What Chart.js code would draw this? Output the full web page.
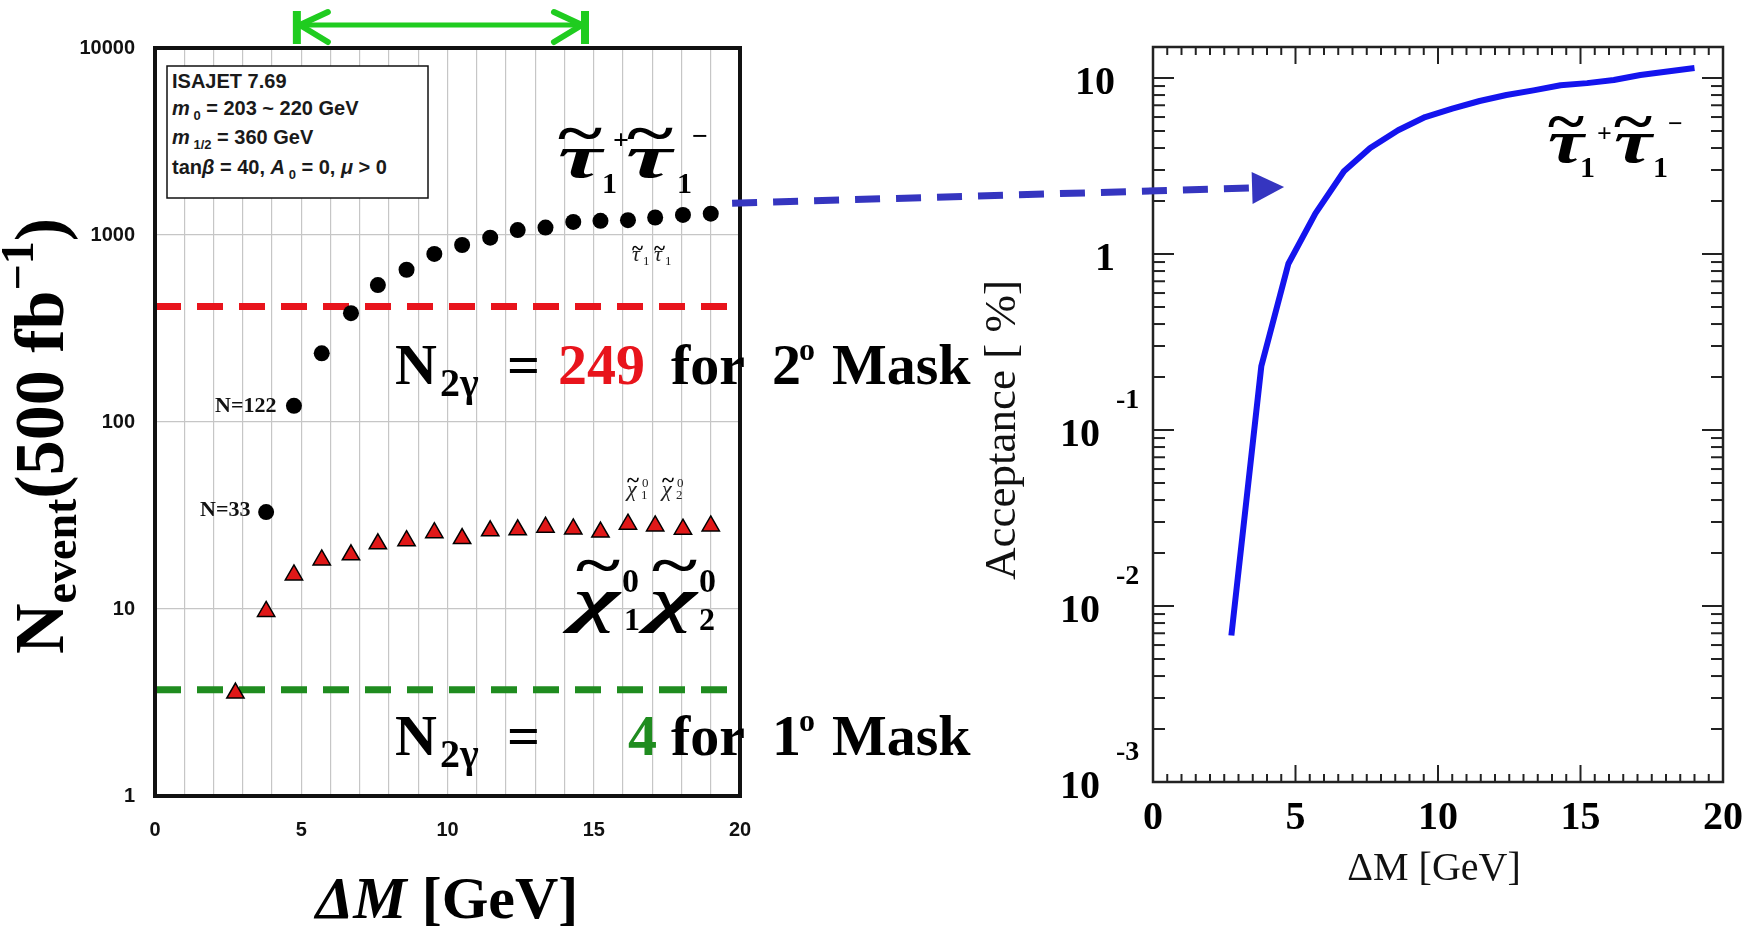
<!DOCTYPE html>
<html><head><meta charset="utf-8">
<script src="https://cdn.jsdelivr.net/npm/chart.js@4.4.1/dist/chart.umd.min.js"></script>
<style>
html,body{margin:0;padding:0;background:#fff;}
#wrap{position:relative;width:1753px;height:931px;overflow:hidden;background:#fff;}
#cL{position:absolute;left:0;top:0;}
#cR{position:absolute;left:760px;top:0;}
#ov{position:absolute;left:0;top:0;z-index:5;}
</style></head><body>
<div id="wrap">
<canvas id="cL" width="760" height="931"></canvas>
<canvas id="cR" width="993" height="931"></canvas>
<svg id="ov" width="1753" height="931" xmlns="http://www.w3.org/2000/svg"></svg>
</div>
<script>
// ---- data ----
const deltaM      = [2.75, 3.8, 4.75, 5.7, 6.7, 7.62, 8.6, 9.55, 10.5, 11.46, 12.4, 13.35, 14.3, 15.23, 16.17, 17.1, 18.05, 19.0];
const stauEvents  = [null, 33, 122, 233, 382, 540, 652, 792, 884, 968, 1062, 1096, 1175, 1190, 1200, 1240, 1280, 1300];
const chiEvents   = [3.55, 9.7, 15.2, 18.3, 19.5, 22.3, 23.2, 25.6, 23.8, 26.2, 26.5, 27.4, 26.8, 25.8, 28.4, 27.8, 26.7, 27.8];
const acceptance  = [0.0068, 0.23, 0.88, 1.7, 2.95, 4.0, 5.05, 6.0, 6.7, 7.4, 8.0, 8.5, 9.1, 9.35, 9.75, 10.4, 10.9, 11.4];
const maskLevels  = [415, 3.7];
const maskLabels  = ['249', '4'];
const xRange      = [0, 20];
const leftYTicks  = [1, 10, 100, 1000, 10000];
const leftYTickLabels = ['1', '10', '100', '1000', '10000'];
const rightXTicks = [0, 5, 10, 15, 20];
const rightYTicks = [0.001, 0.01, 0.1, 1, 10];
const rightYTickBase = ['10', '10', '10', '1', '10'];
const rightYTickExp  = ['-3', '-2', '-1', '', ''];
const arrowRange  = [4.85, 14.7];
const blueArrowFrom = [19.73, 1480];
const blueArrowTo   = [4.6, 2.4];

const SERIF = 'Liberation Serif', SANS = 'Liberation Sans';

const noPad = (s)=>{ s.paddingLeft=0; s.paddingRight=0; s.paddingTop=0; s.paddingBottom=0; };

const frameL = {id:'frameL', afterDatasetsDraw(c){
  const a=c.chartArea, x=c.ctx; x.save(); x.strokeStyle='#111'; x.lineWidth=4;
  x.strokeRect(a.left, a.top, a.right-a.left, a.bottom-a.top); x.restore();
}};

const axesR = {id:'axesR', afterDraw(c){
  const ctx=c.ctx, a=c.chartArea, sx=c.scales.x, sy=c.scales.y;
  ctx.save(); ctx.strokeStyle='#222'; ctx.lineWidth=2;
  const ln=(x1,y1,x2,y2)=>{ctx.beginPath();ctx.moveTo(x1,y1);ctx.lineTo(x2,y2);ctx.stroke();};
  for (let i=0;i<=40;i++){ const v=i*0.5; const px=sx.getPixelForValue(v); const L=(i%10===0)?17:8;
    ln(px,a.bottom,px,a.bottom-L); ln(px,a.top,px,a.top+L); }
  for (let e=-3;e<=1;e++){ for(let k=1;k<=9;k++){ const v=k*Math.pow(10,e); if(v>sy.max) break;
    const py=sy.getPixelForValue(v); const L=(k===1)?21:12; ln(a.left,py,a.left+L,py); ln(a.right,py,a.right-L,py);} }
  ctx.lineWidth=2.5; ctx.strokeRect(a.left,a.top,a.right-a.left,a.bottom-a.top);
  ctx.fillStyle='#000'; ctx.textBaseline='alphabetic';
  rightYTicks.forEach((v,i)=>{
    const py=sy.getPixelForValue(v);
    ctx.font='bold 40px "'+SERIF+'"'; ctx.textAlign='right';
    const hasExp = rightYTickExp[i] !== '';
    ctx.fillText(rightYTickBase[i], a.left-(hasExp?53:38), py+16);
    if (hasExp){ ctx.font='bold 28px "'+SERIF+'"'; ctx.textAlign='left'; ctx.fillText(rightYTickExp[i], a.left-37, py-22); }
  });
  ctx.restore();
}};

const tickFontL = {family:SANS, size:20, weight:'bold'};
const chartL = new Chart(document.getElementById('cL'), {
  type:'scatter',
  data:{datasets:[
    {label:'stau', data: deltaM.map((x,i)=>({x, y:stauEvents[i]})).filter(p=>p.y!==null),
     pointStyle:'circle', pointRadius:8, backgroundColor:'#000', borderColor:'#000', borderWidth:0},
    {label:'chi', data: deltaM.map((x,i)=>({x, y:chiEvents[i]})),
     pointStyle:'triangle', pointRadius:10, backgroundColor:'#e01818', borderColor:'#000', borderWidth:1.5},
    {label:'mask2', data: xRange.map(x=>({x, y:maskLevels[0]})), showLine:true, pointRadius:0,
     borderColor:'#e8141c', borderWidth:7, borderDash:[26,16]},
    {label:'mask1', data: xRange.map(x=>({x, y:maskLevels[1]})), showLine:true, pointRadius:0,
     borderColor:'#1f8c1f', borderWidth:7, borderDash:[26,16]}
  ]},
  options:{responsive:false, animation:false, events:[],
    layout:{autoPadding:false, padding:{left:0, top:48, right:20, bottom:75}},
    plugins:{legend:{display:false}, tooltip:{enabled:false}},
    scales:{
      x:{type:'linear', min:xRange[0], max:xRange[1],
         ticks:{stepSize:1, autoSkip:false, maxRotation:0, padding:22, color:'#111', font:tickFontL,
                callback:(v)=> (v%5===0 ? String(v) : '')},
         grid:{color:'#c6c6c6', lineWidth:1.2, drawTicks:false}, border:{display:false},
         afterFit:(s)=>{s.height=60; noPad(s);}},
      y:{type:'logarithmic', min:leftYTicks[0], max:leftYTicks[leftYTicks.length-1],
         afterBuildTicks:(s)=>{s.ticks=leftYTicks.map(v=>({value:v}));},
         ticks:{padding:20, color:'#111', font:tickFontL,
                callback:(v)=>{const i=leftYTicks.indexOf(v); return i>=0?leftYTickLabels[i]:'';}},
         grid:{color:'#c6c6c6', lineWidth:1.2, drawTicks:false}, border:{display:false},
         afterFit:(s)=>{s.width=155; noPad(s);}}
    }},
  plugins:[frameL]
});

const chartR = new Chart(document.getElementById('cR'), {
  type:'scatter',
  data:{datasets:[{label:'acc', data: deltaM.map((x,i)=>({x, y:acceptance[i]})), showLine:true,
    borderColor:'#1414ee', borderWidth:6, pointRadius:0, tension:0, borderJoinStyle:'round'}]},
  options:{responsive:false, animation:false, events:[],
    layout:{autoPadding:false, padding:{left:0, top:47, right:30, bottom:89}},
    plugins:{legend:{display:false}, tooltip:{enabled:false}},
    scales:{
      x:{type:'linear', min:xRange[0], max:xRange[1],
         afterBuildTicks:(s)=>{s.ticks=rightXTicks.map(v=>({value:v}));},
         ticks:{padding:13, color:'#000', autoSkip:false, maxRotation:0, font:{family:SERIF, size:40, weight:'bold'}},
         grid:{display:false, drawTicks:false}, border:{display:false},
         afterFit:(s)=>{s.height=60; noPad(s);}},
      y:{type:'logarithmic', min:0.001, max:15,
         afterBuildTicks:(s)=>{s.ticks=rightYTicks.map(v=>({value:v}));},
         ticks:{display:false}, grid:{display:false, drawTicks:false}, border:{display:false},
         afterFit:(s)=>{s.width=393; noPad(s);}}
    }},
  plugins:[axesR]
});

// ---- overlay: titles, annotations, arrows ----
const RX = 760;
const sL = chartL.scales, sR = chartR.scales;
const parts = [];
const T = (x,y,txt,attrs)=>`<text x="${x}" y="${y}" ${attrs||''}>${txt}</text>`;
const tilde = (x0,cy,w,size)=>T(x0, cy+0.26*size, '~', `font-family="${SERIF}" font-weight="bold" font-size="${size}" textLength="${w}" lengthAdjust="spacingAndGlyphs"`);
const stretched = (x,y,ch,w,size)=>T(x,y,ch,`font-family="${SERIF}" font-weight="bold" font-style="italic" font-size="${size}" textLength="${w}" lengthAdjust="spacingAndGlyphs"`);
const up = (s)=>`font-family="${SERIF}" font-weight="bold" font-size="${s}"`;

// green range arrow
{
  const x1=sL.x.getPixelForValue(arrowRange[0]), x2=sL.x.getPixelForValue(arrowRange[1]), y=25, g='#1fcc1f';
  parts.push(`<line x1="${x1}" y1="${y}" x2="${x2}" y2="${y}" stroke="${g}" stroke-width="5"/>`);
  parts.push(`<line x1="${x1}" y1="11" x2="${x1}" y2="44" stroke="${g}" stroke-width="8"/>`);
  parts.push(`<line x1="${x2}" y1="11" x2="${x2}" y2="44" stroke="${g}" stroke-width="8"/>`);
  parts.push(`<polyline points="${x1+31},12 ${x1+3},${y} ${x1+31},${y+17}" fill="none" stroke="${g}" stroke-width="6" stroke-linecap="round" stroke-linejoin="round"/>`);
  parts.push(`<polyline points="${x2-31},12 ${x2-3},${y} ${x2-31},${y+17}" fill="none" stroke="${g}" stroke-width="6" stroke-linecap="round" stroke-linejoin="round"/>`);
}
// blue dashed arrow
{
  const sx=sL.x.getPixelForValue(blueArrowFrom[0]), sy=sL.y.getPixelForValue(blueArrowFrom[1]);
  const tx=RX+sR.x.getPixelForValue(blueArrowTo[0]), ty=sR.y.getPixelForValue(blueArrowTo[1]);
  const dx=tx-sx, dy=ty-sy, len=Math.hypot(dx,dy), ux=dx/len, uy=dy/len, nx=-uy, ny=ux;
  const bx=tx-ux*32, by=ty-uy*32;
  parts.push(`<line x1="${sx}" y1="${sy}" x2="${bx}" y2="${by}" stroke="#3535c0" stroke-width="7" stroke-dasharray="25 16"/>`);
  parts.push(`<polygon points="${tx},${ty} ${bx+nx*16},${by+ny*16} ${bx-nx*16},${by-ny*16}" fill="#3535c0"/>`);
}
// info box
parts.push(`<rect x="167" y="66" width="261" height="132" fill="#fff" stroke="#111" stroke-width="1.5"/>`);
{
  const a=`font-family="${SANS}" font-weight="bold" font-size="20" fill="#1a1a1a"`;
  parts.push(T(172,88,'ISAJET 7.69',a));
  parts.push(T(172,115,`<tspan font-style="italic">m</tspan><tspan font-size="13" dy="5"> 0</tspan><tspan dy="-5"> = 203 ~ 220 GeV</tspan>`,a));
  parts.push(T(172,144,`<tspan font-style="italic">m</tspan><tspan font-size="13" dy="5"> 1/2</tspan><tspan dy="-5"> = 360 GeV</tspan>`,a));
  parts.push(T(172,174,`tan<tspan font-style="italic">β</tspan> = 40, <tspan font-style="italic">A</tspan><tspan font-size="13" dy="5"> 0</tspan><tspan dy="-5"> = 0, </tspan><tspan font-style="italic">μ</tspan> &gt; 0`,a));
}
// axis titles
parts.push(`<text transform="translate(63,436) rotate(-90)" text-anchor="middle" font-family="${SERIF}" font-weight="bold" font-size="70">N<tspan font-size="46" dy="13">event</tspan><tspan dy="-13">(500 fb</tspan><tspan font-size="46" dy="-30">−1</tspan><tspan dy="30">)</tspan></text>`);
parts.push(`<text x="447" y="918" text-anchor="middle" font-family="${SERIF}" font-weight="bold" font-size="60"><tspan font-style="italic">ΔM</tspan> [GeV]</text>`);
parts.push(`<text transform="translate(1015,430) rotate(-90)" text-anchor="middle" font-family="${SERIF}" font-size="45" fill="#111">Acceptance [ %]</text>`);
parts.push(`<text x="1434" y="880" text-anchor="middle" font-family="${SERIF}" font-size="40" fill="#111">ΔM [GeV]</text>`);
// point labels
parts.push(T(215,412,'N=122',`font-family="${SERIF}" font-weight="bold" font-size="22" fill="#111"`));
parts.push(T(200,516,'N=33',`font-family="${SERIF}" font-weight="bold" font-size="22" fill="#111"`));
// mask annotations
{
  const b=`font-family="${SERIF}" font-weight="bold" font-size="58" fill="#000"`;
  const line=(base, num, numX, col, deg)=>{
    parts.push(T(395,base,'N',b));
    parts.push(T(440,base+12,'2γ',up(40)));
    parts.push(T(507,base,'=',b));
    parts.push(T(numX,base,num,b.replace('#000',col)));
    parts.push(T(671,base,'for',b));
    parts.push(T(772,base,deg,b));
    parts.push(T(799,base-24,'o',up(32)));
    parts.push(T(832,base,'Mask',b));
  };
  line(384, maskLabels[0], 558, '#e8141c', '2');
  line(755, maskLabels[1], 628, '#1f8c1f', '1');
}
// big stau labels
parts.push(stretched(558,177,'τ',44,62)); parts.push(T(602,193,'1',up(30))); parts.push(T(613,149,'+',up(28)));
parts.push(stretched(626,177,'τ',46,62)); parts.push(T(677,193,'1',up(30))); parts.push(T(692,145,'−',up(28)));
parts.push(tilde(558,137,44,62)); parts.push(tilde(627,137,46,62));
parts.push(stretched(1548,162,'τ',36,62)); parts.push(T(1580,177,'1',up(30))); parts.push(T(1597,142,'+',up(26)));
parts.push(stretched(1614,162,'τ',38,62)); parts.push(T(1653,177,'1',up(30))); parts.push(T(1668,132,'−',up(26)));
parts.push(tilde(1548,125,36,58)); parts.push(tilde(1614,125,38,58));
// big chi label
parts.push(stretched(574,620,'χ',46,62)); parts.push(T(624,630,'1',up(32))); parts.push(T(622,592,'0',up(34)));
parts.push(stretched(650,620,'χ',47,62)); parts.push(T(699,630,'2',up(32))); parts.push(T(699,592,'0',up(34)));
parts.push(tilde(576,569,44,62)); parts.push(tilde(652,569,45,62));
// small labels
{
  const it=`font-family="${SERIF}" font-style="italic" font-size="22" fill="#222"`;
  const sm=`font-family="${SERIF}" font-size="13" fill="#222"`;
  parts.push(T(632,261,'τ',it)); parts.push(T(643,265,'1',sm));
  parts.push(T(654,261,'τ',it)); parts.push(T(665,265,'1',sm));
  parts.push(tilde(632,250,11,20)); parts.push(tilde(654,250,11,20));
  parts.push(T(627,496,'χ',it)); parts.push(T(641,499,'1',sm)); parts.push(T(642,487,'0',sm));
  parts.push(T(662,496,'χ',it)); parts.push(T(676,499,'2',sm)); parts.push(T(677,487,'0',sm));
  parts.push(tilde(627,482,12,20)); parts.push(tilde(662,482,12,20));
}
document.getElementById('ov').innerHTML = parts.join('\n');
</script>
</body></html>
